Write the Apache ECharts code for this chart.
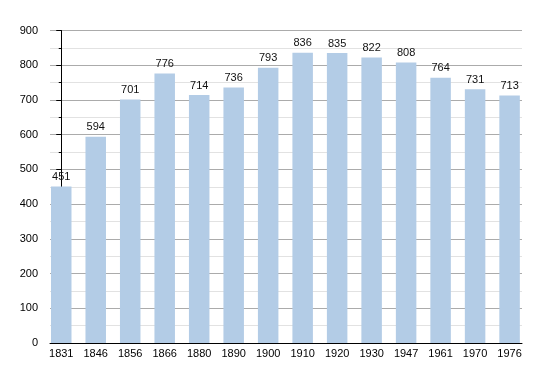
<!DOCTYPE html>
<html><head><meta charset="utf-8">
<script src="https://cdn.jsdelivr.net/npm/echarts@6/dist/echarts.min.js"></script>
<style>html,body{margin:0;padding:0;background:#fff}#c{width:550px;height:373px}</style>
</head><body><div id="c"></div>
<script>
const years = ['1831','1846','1856','1866','1880','1890','1900','1910','1920','1930','1947','1961','1970','1976'];
const population = [451, 594, 701, 776, 714, 736, 793, 836, 835, 822, 808, 764, 731, 713];
const yTicks = [0, 100, 200, 300, 400, 500, 600, 700, 800, 900];

const chart = echarts.init(document.getElementById('c'), null, {renderer: 'canvas'});
const font = "'Liberation Sans', Arial, sans-serif";
chart.setOption({
  animation: false,
  backgroundColor: '#ffffff',
  grid: {left: 50, right: 28, top: 30.5, bottom: 30, containLabel: false},
  xAxis: {
    type: 'value',
    min: -0.326,
    max: 13.36,
    axisLine: {show: true, onZero: false, lineStyle: {color: '#000', width: 1}},
    axisTick: {show: false},
    splitLine: {show: false},
    axisLabel: {
      customValues: years.map((y, i) => i),
      formatter: v => years[Math.round(v)],
      color: '#000', fontFamily: font, fontSize: 11, margin: 5
    }
  },
  yAxis: {
    type: 'value',
    min: yTicks[0], max: yTicks[yTicks.length - 1], interval: 100,
    axisLine: {show: true, lineStyle: {color: '#000', width: 1}},
    axisTick: {show: true, length: 5, lineStyle: {color: '#000'}},
    minorTick: {show: true, splitNumber: 2, length: 2.5, lineStyle: {color: '#000'}},
    splitLine: {show: true, lineStyle: {color: '#ababab', width: 1}},
    minorSplitLine: {show: true, lineStyle: {color: '#e2e2e2', width: 1}},
    axisLabel: {color: '#000', fontFamily: font, fontSize: 11, margin: 12}
  },
  series: [{
    type: 'bar',
    data: population.map((v, i) => [i, v]),
    barWidth: 20.5,
    itemStyle: {color: '#b3cce6'},
    label: {show: true, position: 'top', distance: 4, color: '#111', fontFamily: font, fontSize: 11}
  }]
});
</script></body></html>
